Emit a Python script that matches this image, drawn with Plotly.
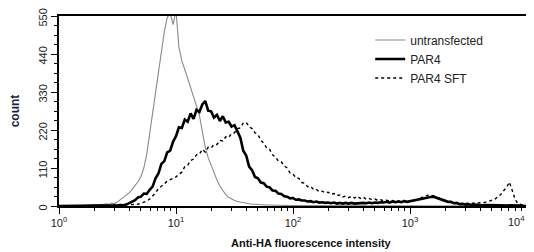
import numpy as np
import plotly.graph_objects as go

# channel positions (log10 of fluorescence intensity), 0.025 decade bins
log_bins = np.round(np.arange(0, 4.0001, 0.025), 3)

untransfected = [
    0, 0, 0, 0, 1, 0, 1, 0, 2, 1, 3, 2, 4, 3, 5, 4, 6, 5, 8, 7,
    12, 18, 24, 30, 38, 48, 58, 70, 85, 110, 150, 210, 265, 330, 390, 455, 505, 545, 560, 525,
    565, 460, 420, 395, 370, 345, 318, 290, 262, 215, 170, 140, 118, 95, 75, 58, 45, 33, 25, 20,
    16, 13, 11, 9, 8, 6, 5, 5, 4, 4, 3, 3, 3, 2, 2, 2, 2, 1, 2, 1,
    1, 1, 2, 1, 1, 0, 1, 1, 0, 1, 1, 0, 1, 0, 1, 0, 0, 1, 0, 0,
    1, 0, 0, 1, 0, 0, 0, 1, 0, 0, 0, 0, 1, 0, 0, 0, 0, 0, 1, 0,
    0, 0, 0, 0, 0, 0, 0, 0, 0, 0, 0, 0, 0, 0, 0, 0, 0, 0, 0, 0,
    0, 0, 0, 0, 0, 0, 0, 0, 0, 0, 0, 0, 0, 0, 0, 0, 0, 0, 0, 0,
    0,
]

par4 = [
    0, 0, 0, 0, 0, 0, 0, 0, 1, 0, 1, 0, 1, 1, 0, 1, 1, 2, 1, 2,
    2, 3, 2, 4, 8, 13, 17, 25, 27, 36, 35, 47, 56, 80, 94, 122, 130, 155, 160, 186,
    202, 228, 226, 250, 244, 268, 252, 278, 272, 294, 304, 276, 274, 256, 264, 246, 260, 242, 244, 230,
    234, 216, 198, 160, 146, 114, 104, 84, 80, 68, 66, 56, 54, 45, 44, 36, 35, 28, 27, 22,
    23, 18, 19, 16, 16, 13, 14, 11, 13, 10, 11, 9, 10, 8, 10, 7, 9, 7, 9, 7,
    9, 7, 8, 7, 9, 8, 10, 8, 10, 9, 11, 10, 12, 10, 13, 11, 13, 11, 14, 12,
    14, 15, 18, 19, 22, 22, 26, 26, 27, 24, 23, 18, 17, 12, 12, 8, 9, 5, 6, 4,
    5, 3, 4, 3, 4, 2, 3, 3, 2, 3, 2, 2, 1, 2, 1, 1, 1, 1, 1, 0,
    0,
]

par4_sft = [
    0, 0, 0, 0, 0, 0, 0, 0, 1, 0, 1, 1, 0, 1, 2, 1, 2, 2, 3, 2,
    3, 4, 3, 4, 5, 4, 6, 5, 8, 10, 14, 20, 28, 38, 50, 56, 64, 72, 76, 82,
    84, 92, 98, 114, 118, 132, 136, 148, 150, 164, 156, 170, 168, 178, 178, 190, 188, 200, 198, 210,
    212, 224, 226, 240, 242, 230, 224, 212, 207, 190, 182, 168, 164, 148, 142, 130, 128, 116, 110, 96,
    92, 82, 80, 68, 66, 56, 57, 48, 48, 41, 43, 38, 40, 34, 36, 30, 32, 26, 29, 24,
    28, 23, 28, 22, 26, 20, 22, 18, 20, 16, 18, 15, 17, 14, 16, 13, 15, 13, 16, 13,
    15, 15, 19, 19, 25, 26, 31, 31, 30, 25, 23, 17, 16, 11, 11, 8, 9, 7, 8, 7,
    8, 7, 9, 8, 10, 9, 12, 13, 18, 19, 27, 33, 44, 54, 69, 45, 18, 6, 3, 2,
    1,
]

x_tickvals = [1, 10, 100, 1000, 10000]
x_ticktext = ["10<sup>0</sup>", "10<sup>1</sup>", "10<sup>2</sup>", "10<sup>3</sup>", ""]
x_last_label = "10<sup>4</sup>"
x_minor = [m * d for d in [1, 10, 100, 1000] for m in range(2, 10)]
y_tickvals = [0, 110, 220, 330, 440, 550]

x_vals = 10 ** log_bins

fig = go.Figure()
fig.add_trace(go.Scatter(x=x_vals, y=untransfected, mode="lines", name="untransfected",
                         line=dict(color="#8a8a8a", width=1.1)))
fig.add_trace(go.Scatter(x=x_vals, y=par4, mode="lines", name="PAR4",
                         line=dict(color="black", width=2.6)))
fig.add_trace(go.Scatter(x=x_vals, y=par4_sft, mode="lines", name="PAR4 SFT",
                         line=dict(color="black", width=1.4, dash="dot")))

axis_font = dict(family="Liberation Sans, Arial", size=11, color="#222")

# the page body adds an 8px offset; figure size/margins compensate for it
fig.update_layout(
    width=526, height=244,
    margin=dict(l=51, r=7, t=8, b=46),
    paper_bgcolor="white", plot_bgcolor="white",
    showlegend=True,
    legend=dict(x=0.665, y=0.95, xanchor="left", yanchor="top",
                font=dict(family="Liberation Sans, Arial", size=12, color="#222"),
                bgcolor="rgba(0,0,0,0)", tracegroupgap=0),
    xaxis=dict(type="log", range=[0, 4], tickvals=x_tickvals, ticktext=x_ticktext,
               automargin=False, ticklabeloverflow="allow",
               ticks="outside", ticklen=6, tickwidth=1, tickcolor="black",
               showline=True, linecolor="black", linewidth=1.5, mirror=True,
               showgrid=False, zeroline=False, tickfont=axis_font,
               minor=dict(tickvals=x_minor, ticks="outside", ticklen=3, tickcolor="black", showgrid=False)),
    yaxis=dict(range=[0, 550], tickvals=y_tickvals, tickangle=-90,
               automargin=False, ticklabeloverflow="allow", ticklabelshift=3,
               ticks="outside", ticklen=6, tickwidth=1, tickcolor="black",
               showline=True, linecolor="black", linewidth=1.5, mirror=True,
               showgrid=False, zeroline=False, tickfont=axis_font,
               minor=dict(dtick=27.5, ticks="outside", ticklen=3, tickcolor="black", showgrid=False),
               title=dict(text="<b>count</b>", standoff=22,
                          font=dict(family="Liberation Sans, Arial", size=12, color="#1a1f3a"))),
    annotations=[
        dict(text="<b>Anti-HA fluorescence intensity</b>", xref="paper", yref="paper",
             x=0.54, y=-0.195, xanchor="center", yanchor="middle", showarrow=False,
             font=dict(family="Liberation Sans, Arial", size=11, color="#111")),
        dict(text=x_last_label, xref="paper", yref="paper",
             x=1, y=-0.035, xanchor="right", yanchor="top", xshift=-1, showarrow=False,
             borderpad=0, font=axis_font),
    ],
)

fig.write_html("out.html")
